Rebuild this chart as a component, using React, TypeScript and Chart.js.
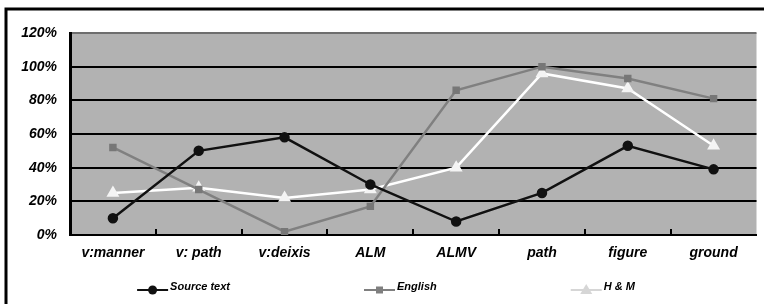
import React, { useEffect, useRef } from "react";
import { Chart, registerables } from "chart.js";

Chart.register(...registerables);

const categories = ["v:manner", "v: path", "v:deixis", "ALM", "ALMV", "path", "figure", "ground"];
const sourceText = [10, 50, 58, 30, 8, 25, 53, 39];
const english = [52, 27, 2, 17, 86, 100, 93, 81];
const hm = [25, 28, 22, 27, 40, 96, 87, 53];
const seriesNames = ["Source text", "English", "H & M"];
const legendColors = ["#111111", "#7f7f7f", "#d6d6d6"];
const yTicks = [0, 20, 40, 60, 80, 100, 120];

const FONT = "'Liberation Sans', Arial, sans-serif";

const framePlugin = {
  id: "frame",
  beforeDraw(chart: any) {
    const { ctx, chartArea } = chart;
    ctx.save();
    ctx.fillStyle = "#fff";
    ctx.fillRect(0, 0, chart.width, chart.height);
    ctx.fillStyle = "#b2b2b2";
    ctx.fillRect(chartArea.left, chartArea.top, chartArea.right - chartArea.left, chartArea.bottom - chartArea.top);
    ctx.restore();
  },
  afterDatasetsDraw(chart: any) {
    const { ctx, chartArea } = chart;
    const x = chart.scales.x;
    ctx.save();
    ctx.strokeStyle = "#000";
    ctx.lineWidth = 3;
    ctx.beginPath();
    ctx.moveTo(6, chart.height);
    ctx.lineTo(6, 9);
    ctx.lineTo(chart.width, 9);
    ctx.stroke();
    ctx.lineWidth = 2;
    ctx.beginPath();
    for (let i = 1; i < categories.length; i++) {
      const px = Math.round((x.getPixelForValue(i - 1) + x.getPixelForValue(i)) / 2);
      ctx.moveTo(px, chartArea.bottom);
      ctx.lineTo(px, chartArea.bottom - 6);
    }
    ctx.stroke();
    ctx.restore();
  },
  afterDraw(chart: any) {
    const { ctx } = chart;
    ctx.save();
    ctx.font = `italic bold 11px ${FONT}`;
    const lineLen = 31;
    const gap = 134;
    const widths = seriesNames.map((n) => lineLen + 2 + ctx.measureText(n).width);
    const total = widths.reduce((a, b) => a + b, 0) + gap * (widths.length - 1);
    let cx = 386 - total / 2;
    const ly = 290;
    chart.data.datasets.forEach((ds: any, i: number) => {
      const col = legendColors[i];
      ctx.strokeStyle = col;
      ctx.lineWidth = 2;
      ctx.beginPath();
      ctx.moveTo(cx, ly);
      ctx.lineTo(cx + lineLen, ly);
      ctx.stroke();
      const mx = cx + lineLen / 2;
      ctx.fillStyle = col;
      ctx.beginPath();
      if (ds.pointStyle === "circle") {
        ctx.arc(mx, ly, 4.5, 0, Math.PI * 2);
      } else if (ds.pointStyle === "rect") {
        ctx.rect(mx - 3.5, ly - 3.5, 7, 7);
      } else {
        ctx.moveTo(mx, ly - 6);
        ctx.lineTo(mx + 6, ly + 4);
        ctx.lineTo(mx - 6, ly + 4);
        ctx.closePath();
      }
      ctx.fill();
      ctx.fillStyle = "#000";
      ctx.textBaseline = "middle";
      ctx.textAlign = "left";
      ctx.fillText(seriesNames[i], cx + lineLen + 2, ly - 3);
      cx += widths[i] + gap;
    });
    ctx.restore();
  },
};

export default function App() {
  const ref = useRef<HTMLCanvasElement>(null);
  useEffect(() => {
    const chart = new Chart(ref.current!, {
      type: "line",
      data: {
        labels: categories,
        datasets: [
          {
            label: seriesNames[0],
            data: sourceText,
            borderColor: "#111",
            backgroundColor: "#111",
            pointBackgroundColor: "#111",
            pointBorderColor: "#111",
            pointStyle: "circle",
            pointRadius: 4,
            borderWidth: 2.5,
            tension: 0,
          },
          {
            label: seriesNames[1],
            data: english,
            borderColor: "#808080",
            backgroundColor: "#808080",
            pointBackgroundColor: "#777",
            pointBorderColor: "#777",
            pointStyle: "rect",
            pointRadius: 3.5,
            borderWidth: 2.5,
            tension: 0,
          },
          {
            label: seriesNames[2],
            data: hm,
            borderColor: "#ffffff",
            backgroundColor: "#ffffff",
            pointBackgroundColor: "#f4f4f4",
            pointBorderColor: "#f4f4f4",
            pointStyle: "triangle",
            pointRadius: 5,
            borderWidth: 2.5,
            tension: 0,
          },
        ],
      },
      options: {
        animation: false,
        responsive: false,
        layout: { padding: { top: 33, bottom: 42, left: 0, right: 0 } },
        plugins: { legend: { display: false }, tooltip: { enabled: false } },
        scales: {
          x: {
            offset: true,
            grid: { display: false, drawTicks: false },
            border: { display: true, color: "#000", width: 2 },
            ticks: {
              padding: 10,
              color: "#000",
              font: { family: FONT, size: 14, style: "italic", weight: "bold" },
              maxRotation: 0,
            },
            afterFit: (s: any) => {
              s.height = 27;
            },
          },
          y: {
            min: 0,
            max: 120,
            afterBuildTicks: (s: any) => {
              s.ticks = yTicks.map((v) => ({ value: v }));
            },
            grid: {
              drawTicks: false,
              lineWidth: 2,
              color: (c: any) => (c.tick && c.tick.value === 120 ? "#6e6e6e" : "#000"),
            },
            border: { display: true, color: "#000", width: 3 },
            ticks: {
              padding: 13,
              color: "#000",
              font: { family: FONT, size: 14, style: "italic", weight: "bold" },
              callback: (v: any) => `${v}%`,
            },
            afterFit: (s: any) => {
              s.width = 70;
            },
          },
        },
      },
      plugins: [framePlugin],
    });
    return () => chart.destroy();
  }, []);
  return (
    <div style={{ position: "fixed", left: 0, top: 0, width: 764, height: 304, background: "#fff" }}>
      <canvas ref={ref} width={764} height={304} style={{ display: "block" }} />
    </div>
  );
}
